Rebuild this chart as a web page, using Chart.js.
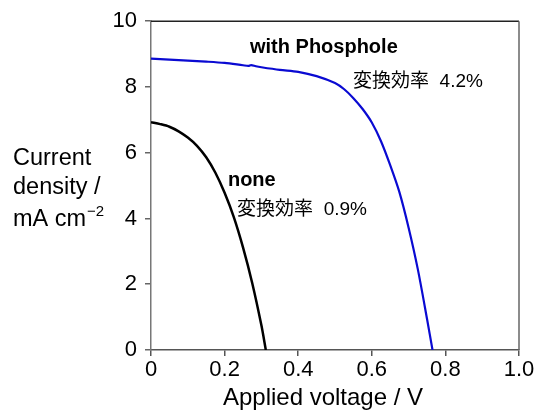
<!DOCTYPE html>
<html>
<head>
<meta charset="utf-8">
<script src="https://cdn.jsdelivr.net/npm/chart.js@4/dist/chart.umd.min.js"></script>
<style>
html,body{margin:0;padding:0;background:#fff;}
#wrap{position:relative;width:539px;height:410px;}
</style>
</head>
<body>
<div id="wrap"><canvas id="c" width="539" height="410"></canvas></div>
<script>
// Applied voltage (V) and current density (mA cm^-2)
const phospholeV = [0, 0.05, 0.1, 0.15, 0.2, 0.25, 0.265, 0.272, 0.285, 0.3, 0.35, 0.4, 0.45, 0.5, 0.525, 0.55, 0.575, 0.6, 0.625, 0.65, 0.675, 0.7, 0.725, 0.75, 0.765];
const phospholeJ = [8.86, 8.83, 8.80, 8.77, 8.73, 8.66, 8.64, 8.665, 8.63, 8.60, 8.52, 8.46, 8.33, 8.12, 7.93, 7.66, 7.33, 6.92, 6.35, 5.62, 4.80, 3.72, 2.46, 0.95, 0.0];
const noneV = [0, 0.025, 0.05, 0.075, 0.1, 0.125, 0.15, 0.175, 0.2, 0.225, 0.25, 0.275, 0.3, 0.312];
const noneJ = [6.93, 6.87, 6.79, 6.65, 6.46, 6.21, 5.86, 5.39, 4.78, 4.04, 3.12, 2.04, 0.75, 0.0];
const xTicks = [0, 0.2, 0.4, 0.6, 0.8, 1.0];
const yTicks = [0, 2, 4, 6, 8, 10];
const xTitle = 'Applied voltage / V';
const yTitleLines = ['Current', 'density /', 'mA cm'];
const yTitleSup = '\u22122';
// annotation texts with anchor positions in data units [V, J]
const labelTexts = ['with Phosphole', '変換効率  4.2%', 'none', '変換効率  0.9%'];
const labelBold = [true, false, true, false];
const labelAnchorV = [0.269, 0.549, 0.209, 0.234];
const labelAnchorJ = [9.19, 8.16, 5.15, 4.28];

const toPts = (xs, ys) => xs.map((x, i) => ({x: x, y: ys[i]}));
const FONT = '"Liberation Sans", Arial, Helvetica, sans-serif';
const CJK = '"Liberation Sans", "Noto Sans CJK JP", sans-serif';

const framePlugin = {
  id: 'frame',
  afterDraw(chart) {
    const ctx = chart.ctx, a = chart.chartArea;
    ctx.save();
    ctx.lineWidth = 1.5;
    ctx.strokeStyle = '#222';
    ctx.beginPath(); ctx.moveTo(a.left, a.top); ctx.lineTo(a.right, a.top); ctx.stroke();
    ctx.strokeStyle = '#666';
    ctx.beginPath(); ctx.moveTo(a.right, a.top); ctx.lineTo(a.right, a.bottom); ctx.stroke();
    // annotations
    const xs = chart.scales.x, ys = chart.scales.y;
    ctx.fillStyle = '#000';
    ctx.textBaseline = 'middle';
    ctx.textAlign = 'left';
    labelTexts.forEach((t, i) => {
      ctx.font = labelBold[i] ? ('bold 20px ' + FONT) : ('19px ' + CJK);
      ctx.fillText(t, xs.getPixelForValue(labelAnchorV[i]), ys.getPixelForValue(labelAnchorJ[i]));
    });
    // y title (horizontal, multi-line)
    ctx.textBaseline = 'alphabetic';
    ctx.font = '23.5px ' + FONT;
    const bl = [165, 194, 226];
    yTitleLines.forEach((t, i) => ctx.fillText(t, 13, bl[i]));
    const w = ctx.measureText(yTitleLines[2]).width;
    ctx.font = '15px ' + FONT;
    ctx.fillText(yTitleSup, 13 + w + 1, 216);
    // x title
    ctx.font = '24px ' + FONT;
    ctx.textAlign = 'center';
    ctx.fillText(xTitle, 323, 405);
    ctx.restore();
  }
};

new Chart(document.getElementById('c'), {
  type: 'scatter',
  data: {
    datasets: [
      {data: toPts(phospholeV, phospholeJ), showLine: true, borderColor: '#0a0ad2', borderWidth: 2.2, pointRadius: 0, tension: 0.3, fill: false},
      {data: toPts(noneV, noneJ), showLine: true, borderColor: '#000', borderWidth: 2.5, pointRadius: 0, tension: 0.3, fill: false}
    ]
  },
  options: {
    responsive: false,
    animation: false,
    layout: {padding: {left: 0, right: 20, top: 18, bottom: 0}},
    plugins: {legend: {display: false}, tooltip: {enabled: false}},
    scales: {
      x: {
        type: 'linear', min: 0, max: 1.0,
        afterBuildTicks: s => { s.ticks = xTicks.map(v => ({value: v})); },
        afterFit: s => { s.height = 60; },
        ticks: {color: '#000', font: {family: FONT, size: 22}, padding: 1, maxRotation: 0,
                callback: v => (v === 0 ? '0' : v === 1 ? '1.0' : String(v))},
        grid: {drawOnChartArea: false, drawTicks: true, tickLength: 6, color: '#555', lineWidth: 1.5},
        border: {display: true, color: '#555', width: 1.5}
      },
      y: {
        type: 'linear', min: 0, max: 10,
        afterBuildTicks: s => { s.ticks = yTicks.map(v => ({value: v})); },
        afterFit: s => { s.width = 151; },
        ticks: {color: '#000', font: {family: FONT, size: 22}, padding: 8},
        grid: {drawOnChartArea: false, drawTicks: true, tickLength: 6, color: '#666', lineWidth: 1.5},
        border: {display: true, color: '#777', width: 1.5}
      }
    }
  },
  plugins: [framePlugin]
});
</script>
</body>
</html>
